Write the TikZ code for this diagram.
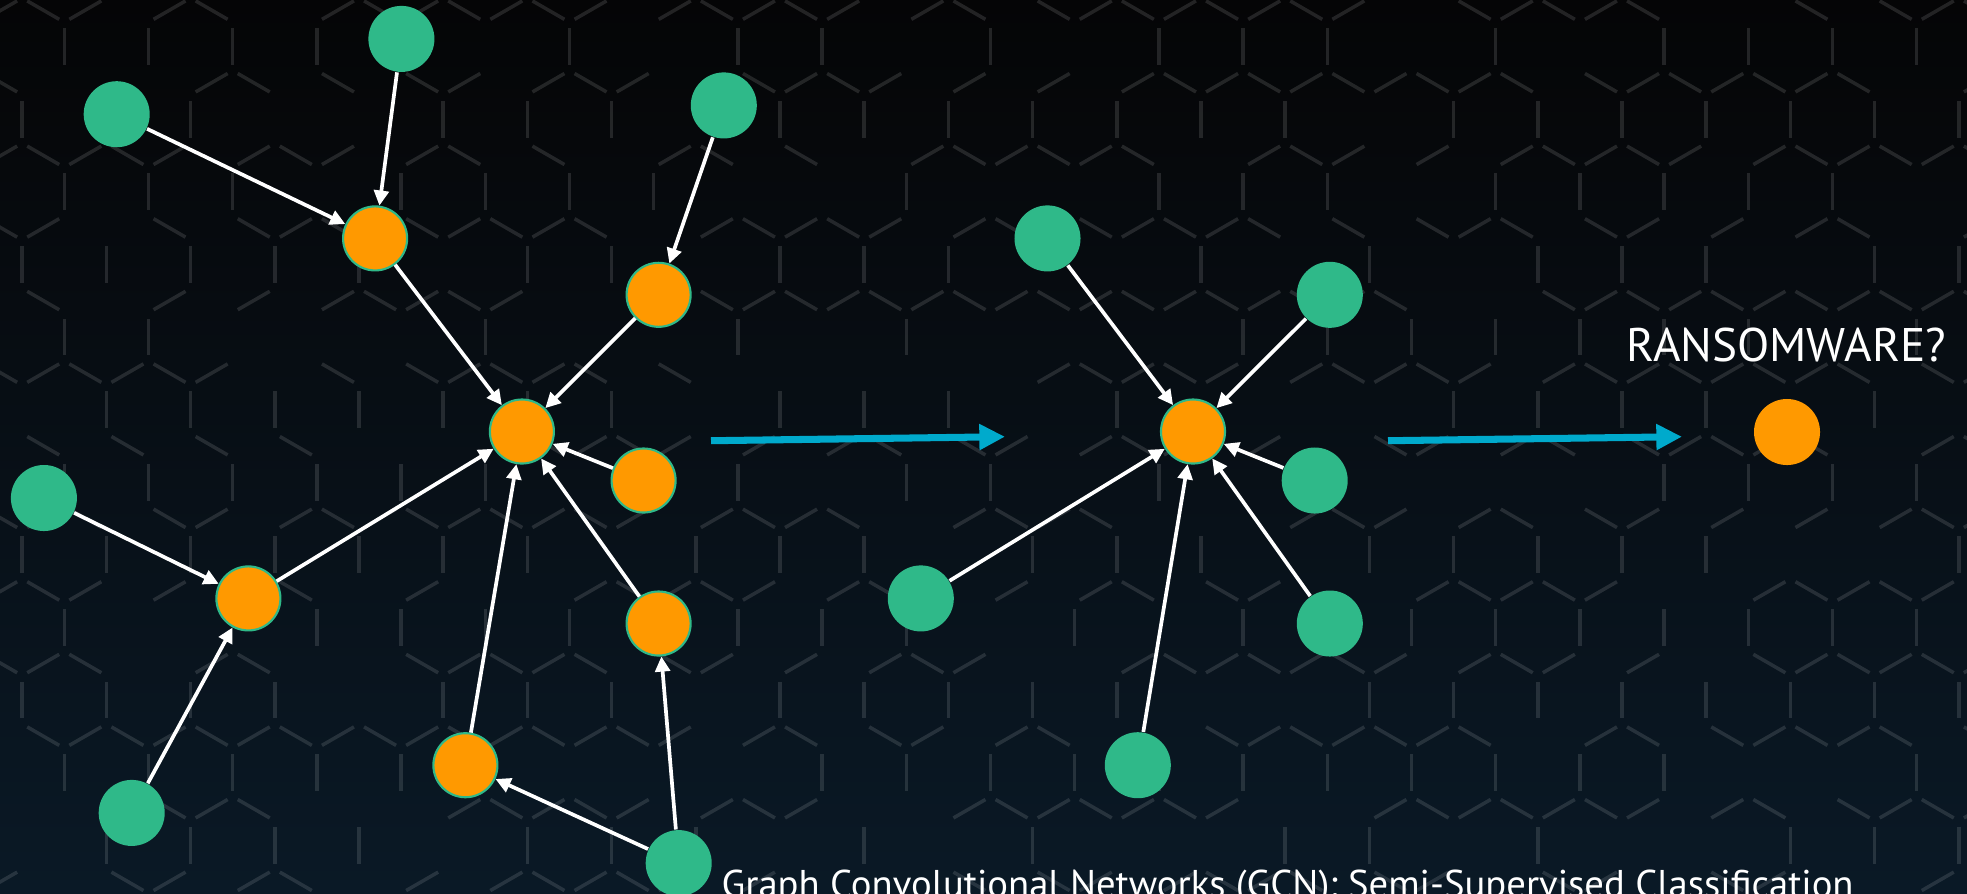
\documentclass[tikz,border=0pt]{standalone}
\usepackage{fontspec}
\setmainfont{PT Sans}
\usetikzlibrary{arrows.meta}
\usetikzlibrary{positioning}

\definecolor{gcnorange}{RGB}{255,153,0}
\definecolor{gcngreen}{RGB}{47,185,137}
\definecolor{gcnblue}{RGB}{0,170,204}
\definecolor{bgtop}{RGB}{5,5,6}
\definecolor{bgmid}{RGB}{9,12,15}
\definecolor{bgbottom}{RGB}{10,25,38}

\begin{document}
\begin{tikzpicture}
		[x=0.01cm, y=-0.01cm,
		feature/.style={circle, fill=gcngreen, minimum size=0.66cm, inner sep=0pt},
		hidden/.style={circle, fill=gcnorange, draw=gcngreen, line width=0.6pt, minimum size=0.64cm, inner sep=0pt},
		msg/.style={-{Triangle[length=4.3pt, width=4.2pt]}, white, line width=1.05pt},
		flow/.style={-{Triangle[length=7.3pt, width=7pt]}, gcnblue, line width=2pt},
		hexline/.style={white, opacity=0.12, line width=1pt},
		caption/.style={white, inner sep=0pt}]
		\useasboundingbox (0,0) rectangle (1967,893);
		\clip (0,0) rectangle (1967,893);
		\shade[top color=bgtop, middle color=bgmid, bottom color=bgbottom] (0,0) rectangle (1967,893);
		% honeycomb in the background, a few edges left out
		\pgfmathsetseed{11}
		\foreach \k in {0,...,13} {
			\foreach \n in {0,...,24} {
				\pgfmathsetmacro{\cx}{22.2+42.1*mod(\k+1,2)+84.2*(\n-1)}
				\pgfmathsetmacro{\cy}{46.5+72.6*(\k-1)}
				\begin{scope}[shift={(\cx,\cy)}]
					\pgfmathrandominteger{\hk}{0}{9}
					\ifnum\hk<7 \draw[hexline] (-42.1,-18.4) -- (-42.1,18.4); \fi
					\pgfmathrandominteger{\hk}{0}{9}
					\ifnum\hk<7 \draw[hexline] (-37.05,-27.16) -- (-5.05,-45.6); \fi
					\pgfmathrandominteger{\hk}{0}{9}
					\ifnum\hk<7 \draw[hexline] (5.05,-45.6) -- (37.05,-27.16); \fi
				\end{scope}
			}
		}
		% input graph
		\node[feature] (g1) at (116.7,114.2) {};
		\node[feature] (g2) at (401.4,38.9) {};
		\node[feature] (g3) at (723.8,105.4) {};
		\node[feature] (g4) at (43.9,498) {};
		\node[feature] (g5) at (131.7,812.9) {};
		\node[feature] (g6) at (678.7,863.1) {};
		\node[hidden] (h1) at (375.1,238.4) {};
		\node[hidden] (h2) at (658.6,294.8) {};
		\node[hidden] (h3) at (643.6,480.5) {};
		\node[hidden] (h4) at (248.4,598.4) {};
		\node[hidden] (h5) at (658.6,623.5) {};
		\node[hidden] (h6) at (465.4,765.2) {};
		\node[hidden] (c) at (521.9,431.5) {};
		\draw[msg] (g1) -- (h1);
		\draw[msg] (g2) -- (h1);
		\draw[msg] (g3) -- (h2);
		\draw[msg] (g4) -- (h4);
		\draw[msg] (g5) -- (h4);
		\draw[msg] (g6) -- (h6);
		\draw[msg] (g6) -- (h5);
		\foreach \v in {h1,h2,h3,h4,h5,h6}
			\draw[msg] (\v) -- (c);
		% aggregated neighbourhood
		\node[feature] (m1) at (1047.5,238.4) {};
		\node[feature] (m2) at (1329.8,294.8) {};
		\node[feature] (m3) at (1314.7,480.5) {};
		\node[feature] (m4) at (920.8,598.4) {};
		\node[feature] (m5) at (1329.8,623.5) {};
		\node[feature] (m6) at (1137.8,765.2) {};
		\node[hidden] (mc) at (1193,431.5) {};
		\foreach \v in {m1,m2,m3,m4,m5,m6}
			\draw[msg] (\v) -- (mc);
		% classified node
		\node[circle, fill=gcnorange, minimum size=0.66cm, inner sep=0pt] (r) at (1787,432) {};
		\node[caption, anchor=base, font=\fontsize{13.4}{16}\selectfont] (q) at (1786,361) {RANSOMWARE?};
		\coordinate (a1) at (711,440.7);
		\coordinate (b1) at (1005,436.7);
		\coordinate (a2) at (1388,440.7);
		\coordinate (b2) at (1682,436.7);
		\draw[flow] (a1) -- (b1);
		\draw[flow] (a2) -- (b2);
		\node[caption, anchor=base west, font=\fontsize{11}{13}\selectfont] (title) at (721,897) {Graph Convolutional Networks (GCN): Semi-Supervised Classification};
	\end{tikzpicture}
\end{document}
